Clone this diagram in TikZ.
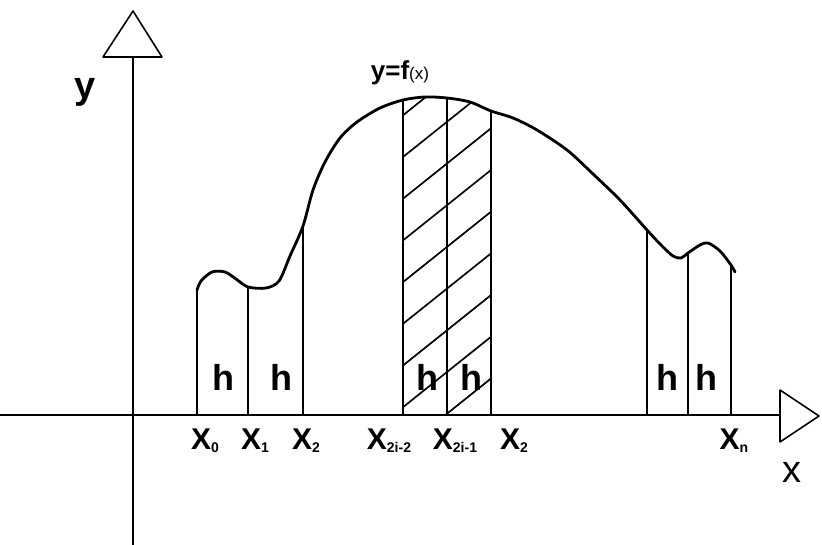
\documentclass[tikz,border=0pt]{standalone}
\usepackage{fontspec}
\setmainfont{Liberation Sans}

\newcommand{\lowidx}[1]{\raisebox{-3pt}{\fontsize{14}{14}\selectfont #1}}

\begin{document}
\begin{tikzpicture}[x=1pt, y=-1pt, line cap=round, line join=round,
    axisline/.style={line width=1.6pt},
    ordinate/.style={line width=1.4pt},
    hatchline/.style={line width=1.7pt},
    curveline/.style={line width=2.8pt},
    hlabel/.style={font=\fontsize{36}{36}\selectfont\bfseries, inner sep=0pt},
    xlabel/.style={font=\fontsize{30}{30}\selectfont\bfseries, inner sep=0pt},
    axislabel/.style={font=\fontsize{38}{38}\selectfont, inner sep=0pt}]
  \useasboundingbox (0,0) rectangle (822,545);

  % feet of the ordinates
  \coordinate (X0) at (197,415);
  \coordinate (X1) at (248,415);
  \coordinate (X2) at (303,415);
  \coordinate (X3) at (403,415);
  \coordinate (X4) at (447,415);
  \coordinate (X5) at (491,415);
  \coordinate (X6) at (647,415);
  \coordinate (X7) at (688,415);
  \coordinate (X8) at (731,415);
  % tops on the curve
  \coordinate (T0) at (197,290);
  \coordinate (T1) at (248,287);
  \coordinate (T2) at (303,226);
  \coordinate (T3) at (403,100);
  \coordinate (T4) at (447,98);
  \coordinate (T5) at (491,111);
  \coordinate (T6) at (647,230);
  \coordinate (T7) at (688,253);
  \coordinate (T8) at (731,265);
  % axes
  \coordinate (O1) at (0,415);
  \coordinate (XA) at (780,415);
  \coordinate (O2) at (133,545);
  \coordinate (YA) at (133,57);

  % hatching of the double strip
  \begin{scope}
    \clip (X3) -- (T3) -- (425,97) -- (T4) -- (470,102) -- (T5) -- (X5) -- cycle;
    \foreach \k in {-2,...,8} {
      \pgfmathsetmacro{\c}{157+41.7*\k}
      \draw[hatchline] (395,\c+6.4) -- (500,\c-77.6);
    }
  \end{scope}

  \draw[axisline] (O1) -- (XA);
  \draw[axisline] (O2) -- (YA);
  \draw[axisline, fill=white] (780,390) -- (819,416) -- (780,442) -- cycle;
  \draw[axisline, fill=white] (103,57) -- (133,11) -- (162,57) -- cycle;

  \draw[ordinate] (X0)--(T0) (X1)--(T1) (X2)--(T2);
  \draw[ordinate] (X3)--(T3) (X4)--(T4) (X5)--(T5);
  \draw[ordinate] (X6)--(T6) (X7)--(T7) (X8)--(T8);

  \draw[curveline] plot[smooth, tension=0.5] coordinates {
    (T0) (201,281) (212,272) (225,272) (236,279) (T1) (266,288) (279,281)
    (290,256) (T2) (313,190) (325,162) (340,138) (357,122) (380,108) (T3)
    (425,97) (T4) (470,102) (T5) (513,118) (537,130) (567,150) (592,173)
    (620,200) (T6) (662,246) (673,256) (681,258) (T7) (700,245) (708,243)
    (720,251) (T8) (735,272)};

  \node[hlabel] (h1) at (223,377) {h};
  \node[hlabel] (h2) at (281,377) {h};
  \node[hlabel] (h3) at (427,377) {h};
  \node[hlabel] (h4) at (471,377) {h};
  \node[hlabel] (h5) at (667,377) {h};
  \node[hlabel] (h6) at (706,377) {h};

  \node[xlabel] (l0) at (205,441) {X\lowidx{0}};
  \node[xlabel] (l1) at (255,441) {X\lowidx{1}};
  \node[xlabel] (l2) at (306,441) {X\lowidx{2}};
  \node[xlabel] (l3) at (389,441) {X\lowidx{2i-2}};
  \node[xlabel] (l4) at (455,441) {X\lowidx{2i-1}};
  \node[xlabel] (l5) at (514,441) {X\lowidx{2}};
  \node[xlabel] (l6) at (734,441) {X\lowidx{n}};

  \node[axislabel, font=\fontsize{38}{38}\selectfont\bfseries] (ly) at (85,92) {y};
  \node[axislabel] (lx) at (792,472) {x};
  \node[font=\fontsize{26}{26}\selectfont\bfseries, inner sep=0pt] (lf) at (400,73)
    {y=f{\fontsize{17}{17}\mdseries\selectfont(x)}};
\end{tikzpicture}
\end{document}
